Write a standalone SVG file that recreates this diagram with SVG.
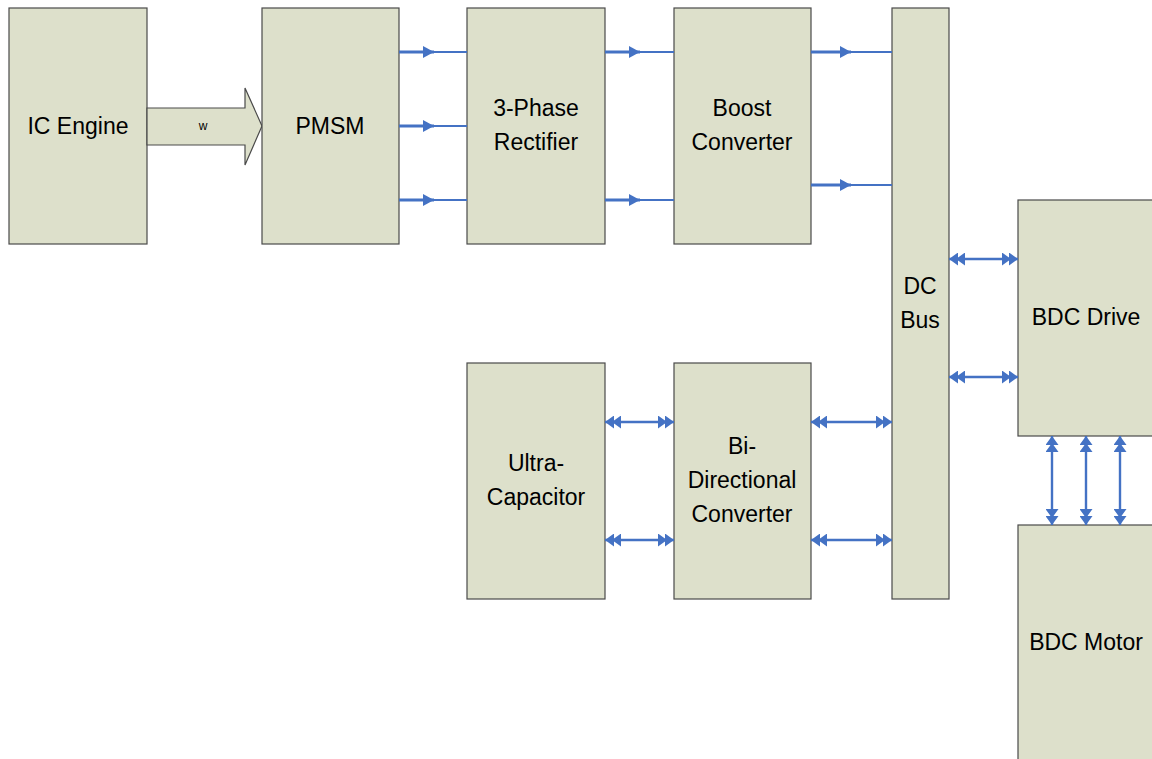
<svg xmlns="http://www.w3.org/2000/svg" width="1152" height="759" viewBox="0 0 1152 759">
<style>
.box{fill:#DDE0CB;stroke:#4a4a4a;stroke-width:1.2}
.t{font-family:"Liberation Sans",Arial,sans-serif;font-size:23px;fill:#000;text-anchor:middle}
.ln{stroke:#4472C4;fill:none}
</style>
<defs>
<marker id="arr" viewBox="0 0 11 12" refX="11" refY="6" markerWidth="11" markerHeight="12" markerUnits="userSpaceOnUse" orient="auto"><path d="M0,0 L11,6 L0,12 Z" fill="#4472C4"/></marker>
<marker id="dbl" viewBox="0 0 16 13" refX="16" refY="6.5" markerWidth="16" markerHeight="13" markerUnits="userSpaceOnUse" orient="auto-start-reverse"><path d="M0,0 L9,6.5 L0,13 Z M7,0 L16,6.5 L7,13 Z" fill="#4472C4"/></marker>
</defs>
<rect width="1152" height="759" fill="#fff"/>
<g id="ic-engine"><rect class="box" x="9" y="8" width="138" height="236"/><text class="t" x="78" y="134">IC Engine</text></g>
<g id="shaft"><path class="box" d="M147,108 L245,108 L245,88 L262,126 L245,165 L245,145 L147,145 Z"/><text x="203" y="130" font-family="Liberation Sans,Arial,sans-serif" font-size="12" text-anchor="middle">w</text></g>
<g id="pmsm"><rect class="box" x="262" y="8" width="137" height="236"/><text class="t" x="330" y="134">PMSM</text></g>
<g id="rectifier"><rect class="box" x="467" y="8" width="138" height="236"/><text class="t" x="536" y="116">3-Phase</text><text class="t" x="536" y="150">Rectifier</text></g>
<g id="boost"><rect class="box" x="674" y="8" width="137" height="236"/><text class="t" x="742" y="116">Boost</text><text class="t" x="742" y="150">Converter</text></g>
<g id="dc-bus"><rect class="box" x="892" y="8" width="57" height="591"/><text class="t" x="920" y="294">DC</text><text class="t" x="920" y="328">Bus</text></g>
<g id="bdc-drive"><rect class="box" x="1018" y="200" width="137" height="236"/><text class="t" x="1086" y="325">BDC Drive</text></g>
<g id="bdc-motor"><rect class="box" x="1018" y="525" width="137" height="240"/><text class="t" x="1086" y="650">BDC Motor</text></g>
<g id="ultracap"><rect class="box" x="467" y="363" width="138" height="236"/><text class="t" x="536" y="471">Ultra-</text><text class="t" x="536" y="505">Capacitor</text></g>
<g id="bidir"><rect class="box" x="674" y="363" width="137" height="236"/><text class="t" x="742" y="454">Bi-</text><text class="t" x="742" y="488">Directional</text><text class="t" x="742" y="522">Converter</text></g>
<g id="connectors">
<g class="ln" stroke-width="3"><path d="M399,52 H434" marker-end="url(#arr)"/><path d="M399,126 H434" marker-end="url(#arr)"/><path d="M399,200 H434" marker-end="url(#arr)"/>
<path d="M605,52 H640" marker-end="url(#arr)"/><path d="M605,200 H640" marker-end="url(#arr)"/>
<path d="M811,52 H851" marker-end="url(#arr)"/><path d="M811,185 H851" marker-end="url(#arr)"/></g>
<g class="ln" stroke-width="2"><path d="M434,52 H467 M434,126 H467 M434,200 H467 M640,52 H674 M640,200 H674 M851,52 H892 M851,185 H892"/></g>
<g class="ln" stroke-width="2.4">
<path d="M949,259 H1018" marker-start="url(#dbl)" marker-end="url(#dbl)"/>
<path d="M949,377 H1018" marker-start="url(#dbl)" marker-end="url(#dbl)"/>
<path d="M605,422 H674" marker-start="url(#dbl)" marker-end="url(#dbl)"/>
<path d="M605,540 H674" marker-start="url(#dbl)" marker-end="url(#dbl)"/>
<path d="M811,422 H892" marker-start="url(#dbl)" marker-end="url(#dbl)"/>
<path d="M811,540 H892" marker-start="url(#dbl)" marker-end="url(#dbl)"/>
<path d="M1052,436 V525" marker-start="url(#dbl)" marker-end="url(#dbl)"/>
<path d="M1086,436 V525" marker-start="url(#dbl)" marker-end="url(#dbl)"/>
<path d="M1120,436 V525" marker-start="url(#dbl)" marker-end="url(#dbl)"/>
</g>
</g>
</svg>
